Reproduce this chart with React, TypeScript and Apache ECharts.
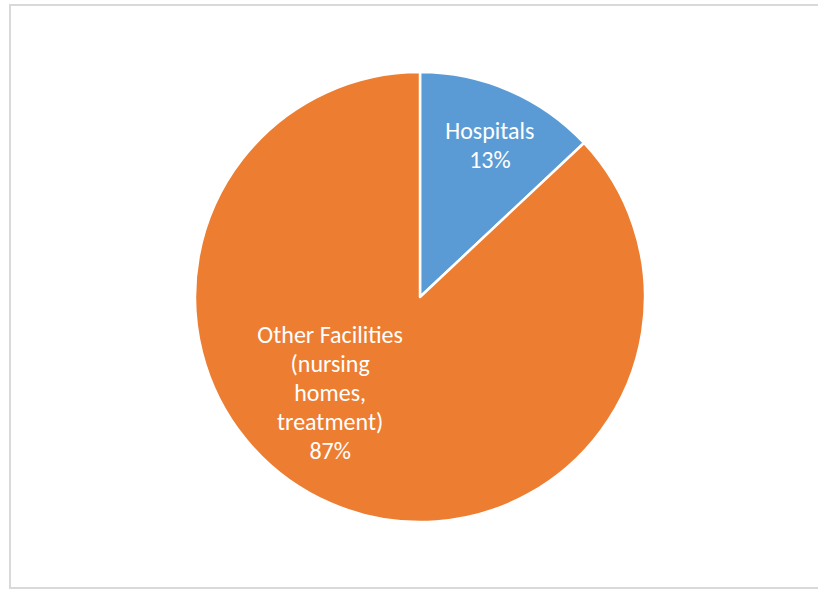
import React, { useEffect, useRef } from "react";
import * as echarts from "echarts";

const categories = ["Hospitals", "Other Facilities\n(nursing\nhomes,\ntreatment)"];
const values = [13, 87];
const colors = ["#5B9BD5", "#ED7D31"];
const labelOffsets = [[24, -46], [-44, -11]];

export default function App() {
  const ref = useRef<HTMLDivElement>(null);
  useEffect(() => {
    if (!ref.current) return;
    const chart = echarts.init(ref.current, null, { renderer: "svg" });
    chart.setOption({
      animation: false,
      backgroundColor: "#ffffff",
      graphic: [
        {
          type: "rect",
          shape: { x: 10, y: 5, width: 900, height: 583 },
          style: { fill: "none", stroke: "#d9d9d9", lineWidth: 2 },
          silent: true,
        },
      ],
      series: [
        {
          type: "pie",
          center: [420, 297],
          radius: [0, 225],
          startAngle: 90,
          clockwise: true,
          itemStyle: { borderColor: "#ffffff", borderWidth: 2.5 },
          label: {
            show: true,
            position: "inside",
            color: "#ffffff",
            fontFamily: "Carlito, Lato, sans-serif",
            fontSize: 24,
            lineHeight: 29,
            align: "center",
            formatter: (p: any) => `${p.name}\n${p.value}%`,
          },
          labelLine: { show: false },
          data: categories.map((name, i) => ({
            name,
            value: values[i],
            itemStyle: { color: colors[i] },
            label: { offset: labelOffsets[i] },
          })),
        },
      ],
    });
    return () => chart.dispose();
  }, []);
  return (
    <div
      ref={ref}
      style={{ position: "fixed", left: 0, top: 0, width: 818, height: 589 }}
    />
  );
}
